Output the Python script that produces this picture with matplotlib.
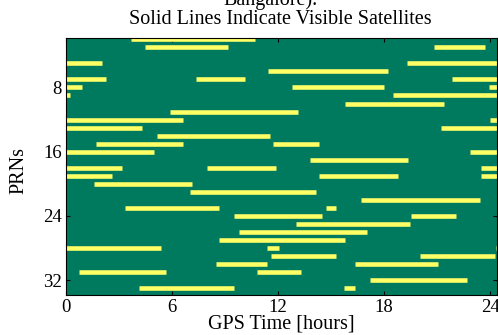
import matplotlib
matplotlib.use("Agg")
import matplotlib.pyplot as plt

# Visible passes: satellite row, start [h], end [h]
prn = [2, 3, 3, 5, 5, 6, 7, 7, 7, 8, 8, 8, 9, 9, 10, 11, 12, 12, 13, 13,
       14, 15, 15, 16, 16, 17, 18, 18, 18, 19, 19, 19, 20, 21, 22, 23, 23,
       24, 24, 25, 26, 27, 28, 28, 28, 29, 29, 30, 30, 31, 31, 32, 33, 33]
t_start = [3.68, 4.47, 20.8, 0.0, 19.3, 11.4, 0.0, 7.34, 21.85, 0.0, 12.8, 23.9,
           0.0, 18.5, 15.8, 5.9, 0.0, 24.0, 0.0, 21.2, 5.15, 1.68, 11.7, 0.0,
           22.85, 13.8, 0.0, 7.96, 23.5, 0.0, 14.3, 23.5, 1.6, 7.0, 16.7, 3.36,
           14.7, 9.53, 19.5, 13.0, 9.8, 8.68, 0.0, 11.38, 24.3, 11.57, 20.0,
           8.47, 16.37, 0.75, 10.8, 17.17, 4.15, 15.7]
t_end = [10.7, 9.19, 23.7, 2.05, 24.4, 18.2, 2.26, 10.13, 24.4, 0.9, 18.0, 24.4,
         0.25, 24.4, 21.4, 13.1, 6.6, 24.4, 4.3, 24.4, 11.55, 6.6, 14.3, 4.98,
         24.4, 19.35, 3.17, 11.87, 24.4, 2.6, 18.8, 24.4, 7.1, 14.13, 23.4, 8.68,
         15.3, 14.47, 22.05, 19.47, 17.05, 15.8, 5.36, 12.05, 24.4, 15.3, 24.25,
         11.38, 21.03, 5.64, 13.28, 22.67, 9.53, 16.37]

x_ticks = [0, 6, 12, 18, 24]
y_ticks = [8, 16, 24, 32]

plt.rcParams["font.family"] = ["Liberation Serif", "DejaVu Serif"]

fig = plt.figure(figsize=(4.98, 3.35), dpi=100)
ax = fig.add_axes([0.1325, 0.1194, 0.8645, 0.7681])
ax.set_facecolor("#007a5e")

ax.hlines(prn, t_start, t_end, colors="#ffff66", linewidth=3.3, capstyle="butt")

ax.set_xlim(0, 24.35)
ax.set_ylim(33.85, 1.8)
ax.set_xticks(x_ticks)
ax.set_yticks(y_ticks)
ax.tick_params(direction="in", top=True, right=True, labelsize=13.5,
               length=3, pad=3)
ax.set_xlabel("GPS Time [hours]", fontsize=14.5, labelpad=-1)
ax.set_ylabel("PRNs", fontsize=14.5)
ax.yaxis.set_label_coords(-0.088, 0.482)

fig.text(0.543, 0.985, "Bangalore).", ha="center", va="baseline", fontsize=14.5)
fig.text(0.563, 0.928, "Solid Lines Indicate Visible Satellites",
         ha="center", va="baseline", fontsize=14.5)

fig.savefig("out.png", dpi=100)
